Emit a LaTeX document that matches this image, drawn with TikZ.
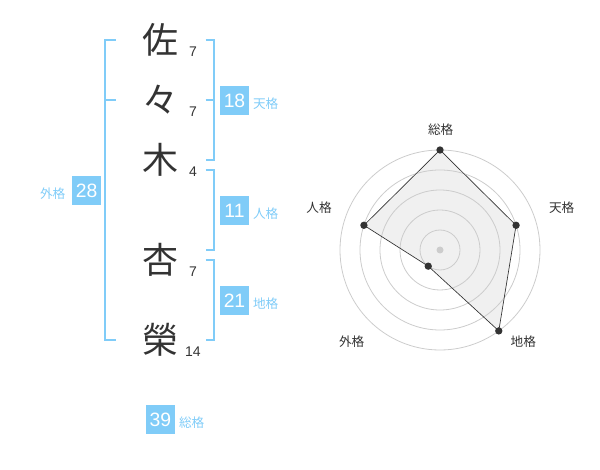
\documentclass[tikz,border=0pt]{standalone}
\usepackage{fontspec}
\setmainfont{Liberation Sans}
\newfontfamily\jpfont{Noto Sans CJK JP}
\usetikzlibrary{calc}
\definecolor{skyblue}{HTML}{80CCF8}
\definecolor{ink}{HTML}{333333}
\definecolor{ring}{HTML}{CCCCCC}
\definecolor{area}{HTML}{F0F0F0}
\tikzset{>=latex}
\tikzstyle{kanji}=[text=ink,inner sep=0pt,font=\jpfont\fontsize{27}{27}\selectfont]
\tikzstyle{strokes}=[text=ink,inner sep=0pt,font=\fontsize{10.5}{10.5}\selectfont]
\tikzstyle{score}=[rectangle,fill=skyblue,text=white,inner sep=0pt,minimum size=21.75pt,font=\fontsize{14.5}{14.5}\selectfont]
\tikzstyle{kaku}=[text=skyblue,inner sep=0pt,font=\jpfont\fontsize{9.5}{9.5}\selectfont]
\tikzstyle{bracket}=[draw=skyblue,line width=1.5pt]
\tikzstyle{axis}=[text=ink,inner sep=0pt,font=\jpfont\fontsize{9.5}{9.5}\selectfont]
\tikzstyle{spot}=[circle,fill=ink,inner sep=0pt,minimum size=5.5pt]

\begin{document}
\begin{tikzpicture}[x=0.75pt,y=-0.75pt]
	\useasboundingbox (0,0) rectangle (600,470);

	% name
	\node[kanji] (k1) at (160,40) {佐};
	\node[kanji] (k2) at (160,100) {々};
	\node[kanji] (k3) at (160,160) {木};
	\node[kanji] (k4) at (160,260) {杏};
	\node[kanji] (k5) at (160,340) {榮};
	\node[strokes] (s1) at (193,52) {7};
	\node[strokes] (s2) at (193,112) {7};
	\node[strokes] (s3) at (193,172) {4};
	\node[strokes] (s4) at (193,272) {7};
	\node[strokes] (s5) at (193,352) {14};

	% brackets
	\draw[bracket] (115.7,40) -- (105.3,40) -- (105.3,340) -- (115.7,340);
	\draw[bracket] (105.3,100) -- (115.7,100);
	\draw[bracket] (205.7,40) -- (214.3,40) -- (214.3,160) -- (205.7,160);
	\draw[bracket] (205.7,100) -- (214.3,100);
	\draw[bracket] (205.7,170) -- (214.3,170) -- (214.3,250) -- (205.7,250);
	\draw[bracket] (205.7,260) -- (214.3,260) -- (214.3,340) -- (205.7,340);

	% scores
	\node[score] (ten) at (234.5,100.5) {18};
	\node[kaku] (tenl) at (265.7,104) {天格};
	\node[score] (jin) at (234.5,210.5) {11};
	\node[kaku] (jinl) at (265.7,214) {人格};
	\node[score] (chi) at (234.5,300.5) {21};
	\node[kaku] (chil) at (265.7,304) {地格};
	\node[score] (gai) at (86.7,190.5) {28};
	\node[kaku] (gail) at (52.7,194) {外格};
	\node[score] (so) at (160.5,419.5) {39};
	\node[kaku] (sol) at (191.7,422.7) {総格};

	% radar
	\coordinate (c) at (440,250);
	\foreach \a/\v/\n in {90/100/p1,18/80/p2,-54/100/p3,-126/20/p4,162/80/p5}
		\coordinate (\n) at ({440+\v*cos(\a)},{250-\v*sin(\a)});
	\fill[area] (p1) -- (p2) -- (p3) -- (p4) -- (p5) -- cycle;
	\foreach \r in {20,40,...,100}
		\draw[ring,line width=0.6pt] (c) circle[radius=\r];
	\fill[ring] (c) circle[radius=3.5];
	\draw[ink,line width=0.5pt] (p1) -- (p2) -- (p3) -- (p4) -- (p5) -- cycle;
	\foreach \n in {p1,p2,p3,p4,p5}
		\node[spot] at (\n) {};
	\node[axis] (a1) at (440.7,130) {総格};
	\node[axis] (a2) at (561.7,208) {天格};
	\node[axis] (a3) at (523.3,341.7) {地格};
	\node[axis] (a4) at (351.7,341.7) {外格};
	\node[axis] (a5) at (319,208) {人格};
\end{tikzpicture}
\end{document}
